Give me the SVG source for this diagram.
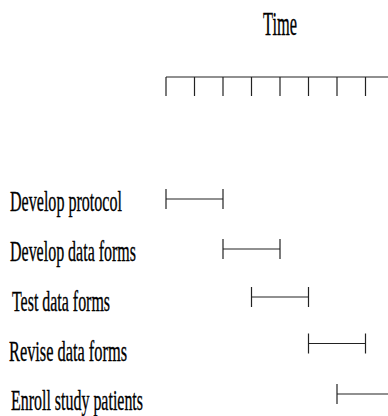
<svg xmlns="http://www.w3.org/2000/svg" width="388" height="416" viewBox="0 0 388 416">
<style>
  text { font-family: "Liberation Serif", "Times New Roman", serif; fill: #000; stroke: #000; stroke-width: 0.35; }
  .lbl { font-size: 29px; }
  .ttl { font-size: 34px; }
  line { stroke: #222; stroke-width: 1.2; fill: none; }
</style>
<rect width="388" height="416" fill="#fff"/>
<g id="title">
  <text class="ttl" x="263" y="35" textLength="34" lengthAdjust="spacingAndGlyphs">Time</text>
</g>
<g id="axis">
  <line x1="166" y1="77" x2="388" y2="77"/>
  <line x1="166" y1="77" x2="166" y2="96"/>
  <line x1="194.5" y1="77" x2="194.5" y2="96"/>
  <line x1="223" y1="77" x2="223" y2="96"/>
  <line x1="251.5" y1="77" x2="251.5" y2="96"/>
  <line x1="280" y1="77" x2="280" y2="96"/>
  <line x1="308.5" y1="77" x2="308.5" y2="96"/>
  <line x1="337" y1="77" x2="337" y2="96"/>
  <line x1="365.5" y1="77" x2="365.5" y2="96"/>
</g>
<g id="task-develop-protocol">
  <text class="lbl" x="10" y="211" textLength="112" lengthAdjust="spacingAndGlyphs">Develop protocol</text>
  <line x1="166" y1="199" x2="223" y2="199"/>
  <line x1="166" y1="189" x2="166" y2="209"/>
  <line x1="223" y1="189" x2="223" y2="209"/>
</g>
<g id="task-develop-data-forms">
  <text class="lbl" x="10" y="261" textLength="126" lengthAdjust="spacingAndGlyphs">Develop data forms</text>
  <line x1="223" y1="249" x2="280" y2="249"/>
  <line x1="223" y1="239" x2="223" y2="259"/>
  <line x1="280" y1="239" x2="280" y2="259"/>
</g>
<g id="task-test-data-forms">
  <text class="lbl" x="12" y="311" textLength="98" lengthAdjust="spacingAndGlyphs">Test data forms</text>
  <line x1="251.5" y1="297" x2="308.5" y2="297"/>
  <line x1="251.5" y1="287" x2="251.5" y2="307"/>
  <line x1="308.5" y1="287" x2="308.5" y2="307"/>
</g>
<g id="task-revise-data-forms">
  <text class="lbl" x="9" y="361" textLength="118" lengthAdjust="spacingAndGlyphs">Revise data forms</text>
  <line x1="308.5" y1="343.5" x2="365.5" y2="343.5"/>
  <line x1="308.5" y1="333.5" x2="308.5" y2="353.5"/>
  <line x1="365.5" y1="333.5" x2="365.5" y2="353.5"/>
</g>
<g id="task-enroll-study-patients">
  <text class="lbl" x="11" y="410" textLength="132" lengthAdjust="spacingAndGlyphs">Enroll study patients</text>
  <line x1="337" y1="394" x2="388" y2="394"/>
  <line x1="337" y1="384" x2="337" y2="404"/>
</g>
<g id="connectors"></g>
</svg>
